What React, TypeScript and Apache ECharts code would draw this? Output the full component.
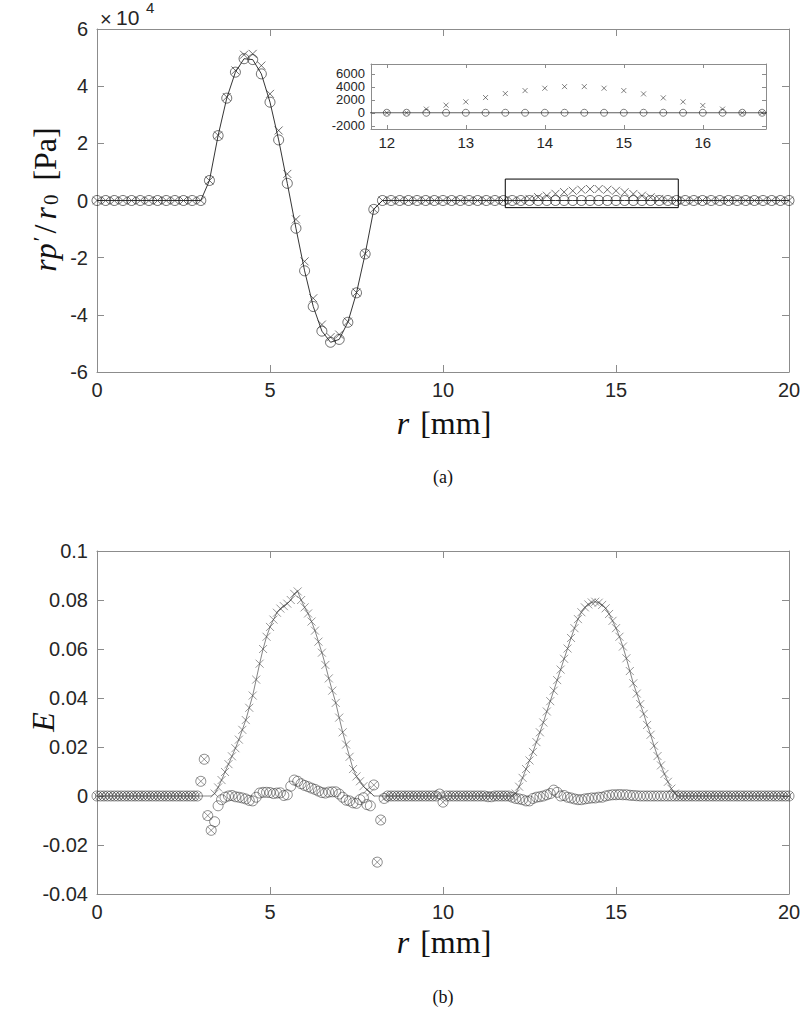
import React, { useEffect, useRef } from "react";
import * as echarts from "echarts";

// ---------- panel (a): r p'/r0 [Pa] on a 0.25 mm grid (r = 0 ... 20) ----------
const R_STEP_A = 0.25;
const pCircle = [
  0, 0, 0, 0, 0, 0, 0, 0, 0, 0,
  0, 0, 0, 7000, 22700, 35800, 44900, 49600, 49300, 44300,
  34400, 21200, 6000, -9700, -24600, -37100, -45700, -49600, -48600, -42600,
  -32300, -18700, -3100, 0, 0, 0, 0, 0, 0, 0,
  0, 0, 0, 0, 0, 0, 0, 0, 0, 0,
  0, 0, 0, 0, 0, 0, 0, 0, 0, 0,
  0, 0, 0, 0, 0, 0, 0, 0, 0, 0,
  0, 0, 0, 0, 0, 0, 0, 0, 0, 0,
  0,
];
const pCross = [
  0, 0, 0, 0, 0, 0, 0, 0, 0, 0,
  0, 0, 0, 7000, 22800, 36200, 45500, 51000, 51300, 47200,
  37300, 24500, 9300, -6600, -21300, -34200, -43400, -47800, -46900, -42400,
  -32200, -18600, -3000, 0, 0, 0, 0, 0, 0, 0,
  0, 0, 0, 0, 0, 0, 0, 0, 0, 0,
  560, 1170, 1680, 2340, 2950, 3410, 3770, 4020, 4020, 3770,
  3410, 2900, 2290, 1680, 1120, 560, 0, 0, 0, 0,
  0, 0, 0, 0, 0, 0, 0, 0, 0, 0,
  0,
];
const xTicksA = [0, 5, 10, 15, 20];
const yTicksA = [-60000, -40000, -20000, 0, 20000, 40000, 60000];
// inset (zoom window)
const insetR = [11.8, 16.8];
const insetP = [-2500, 7500];
const insetXTicks = [12, 13, 14, 15, 16];
const insetYTicks = [-2000, 0, 2000, 4000, 6000];

// ---------- panel (b): E on a 0.1 mm grid (r = 0 ... 20) ----------
const R_STEP_B = 0.1;
const eCross = [
  0, 0, 0, 0, 0, 0, 0, 0, 0, 0,
  0, 0, 0, 0, 0, 0, 0, 0, 0, 0,
  0, 0, 0, 0, 0, 0, 0, 0, 0, 0,
  0.006, 0.015, -0.008, -0.014, 0.001, 0.0035, 0.0065, 0.0098, 0.013, 0.0162,
  0.0195, 0.023, 0.027, 0.031, 0.036, 0.041, 0.0475, 0.054, 0.06, 0.065,
  0.069, 0.072, 0.0748, 0.0765, 0.0775, 0.0785, 0.08, 0.0825, 0.0835, 0.08,
  0.077, 0.0745, 0.0712, 0.0675, 0.063, 0.0585, 0.0535, 0.048, 0.043, 0.038,
  0.032, 0.026, 0.021, 0.016, 0.011, 0.008, 0.006, 0.004, 0.0025, 0.0015,
  0.0045, -0.027, -0.0098, -0.001, 0, 0, 0, 0, 0, 0,
  0, 0, 0, 0, 0, 0, 0, 0, 0, 0.0008,
  -0.0025, 0, 0, 0, 0, 0, 0, 0, 0, 0,
  0, 0, 0, 0, 0, 0, 0, 0, 0, 0,
  0, 0.001, 0.0038, 0.0074, 0.011, 0.0145, 0.018, 0.022, 0.026, 0.03,
  0.0345, 0.0387, 0.043, 0.0473, 0.0516, 0.056, 0.0602, 0.0645, 0.0685, 0.0722,
  0.075, 0.077, 0.0782, 0.079, 0.0793, 0.0789, 0.078, 0.0766, 0.0743, 0.0715,
  0.0685, 0.065, 0.061, 0.0562, 0.051, 0.046, 0.0418, 0.0375, 0.0335, 0.029,
  0.025, 0.0205, 0.0163, 0.0125, 0.009, 0.0058, 0.003, 0.001, 0, 0,
  0, 0, 0, 0, 0, 0, 0, 0, 0, 0,
  0, 0, 0, 0, 0, 0, 0, 0, 0, 0,
  0, 0, 0, 0, 0, 0, 0, 0, 0, 0,
  0,
];
const eCircle = [
  0, 0, 0, 0, 0, 0, 0, 0, 0, 0,
  0, 0, 0, 0, 0, 0, 0, 0, 0, 0,
  0, 0, 0, 0, 0, 0, 0, 0, 0, 0,
  0.006, 0.015, -0.008, -0.014, -0.0105, -0.004, -0.0015, -0.0005, 0, 0.0002,
  -0.0003, -0.0005, -0.0008, -0.0012, -0.0018, -0.002, -0.0005, 0.0012, 0.0015, 0.0015,
  0.0014, 0.001, 0.0012, 0.0013, 0.0002, 0.0005, 0.004, 0.0065, 0.006, 0.005,
  0.0043, 0.0038, 0.0032, 0.0027, 0.002, 0.0014, 0.0012, 0.0016, 0.0017, 0.0017,
  0.0008, -0.0005, -0.0017, -0.002, -0.0028, -0.003, -0.0015, -0.0007, -0.0035, -0.004,
  0.0045, -0.027, -0.0098, -0.001, 0, 0, 0, 0, 0, 0,
  0, 0, 0, 0, 0, 0, 0, 0, 0, 0.0008,
  -0.0025, 0, 0, 0, 0, 0, 0, 0, 0, 0,
  0, 0, 0, -0.0003, -0.0003, 0, 0, 0, 0, 0,
  -0.0005, -0.001, -0.0012, -0.0015, -0.002, -0.002, -0.001, -0.0005, -0.0003, 0,
  0.0005, 0.001, 0.0024, 0.0015, 0, 0.0002, -0.0005, -0.0008, -0.0012, -0.0015,
  -0.0015, -0.0012, -0.001, -0.0008, -0.0008, -0.0005, -0.0005, 0, 0.0003, 0.0005,
  0.0005, 0.0006, 0.0005, 0.0005, 0.0003, 0.0002, 0.0001, 0, 0, 0,
  0, 0, 0, 0, 0, 0, 0, 0, 0, 0,
  0, 0, 0, 0, 0, 0, 0, 0, 0, 0,
  0, 0, 0, 0, 0, 0, 0, 0, 0, 0,
  0, 0, 0, 0, 0, 0, 0, 0, 0, 0,
  0,
];
// r positions where the reference line stays on zero (outliers of the schemes)
const eOutlierR = [3.0, 3.1, 3.2, 3.3, 8.0, 8.1, 8.2, 8.3, 9.9, 10.0];

const AXIS = "#8c8c8c";
const LABEL = "#262626";
const INK = "#1e1e1e";
const SANS = '"Liberation Sans", Arial, Helvetica, sans-serif';
const SERIF = '"Liberation Serif", "Times New Roman", serif';
const CROSS = "path://M0 0L10 10M10 0L0 10";

const rA = pCircle.map((_, i) => +(i * R_STEP_A).toFixed(2));
const rB = eCircle.map((_, i) => +(i * R_STEP_B).toFixed(2));

function fmtNum(v: number) {
  const n = Number(v.toFixed(4));
  return String(Object.is(n, -0) ? 0 : n);
}

function axis(dir: "x" | "y", grid: number, pos: string, min: number, max: number, extra: any = {}) {
  const main = pos === "bottom" || pos === "left";
  const base: any = {
    type: "value",
    gridIndex: grid,
    position: pos,
    min,
    max,
    nameMoveOverlap: false,
    axisLine: { show: true, onZero: false, lineStyle: { color: AXIS, width: 1 } },
    axisTick: { show: true, inside: true, length: 7, lineStyle: { color: AXIS, width: 1 } },
    axisLabel: {
      show: main,
      color: LABEL,
      fontSize: 20,
      fontFamily: SANS,
      margin: dir === "x" ? 8 : 9,
      hideOverlap: false,
      showMinLabel: true,
      showMaxLabel: true,
    },
    splitLine: { show: false },
    silent: true,
  };
  const out = { ...base, ...extra };
  if (extra.axisTick) out.axisTick = { ...base.axisTick, ...extra.axisTick };
  if (extra.axisLabel) out.axisLabel = { ...base.axisLabel, ...extra.axisLabel, show: main && extra.axisLabel.show !== false };
  return out;
}

const FS = 32;
const nameRich = {
  i: { fontFamily: SERIF, fontStyle: "italic", fontSize: FS, color: "#111", padding: [0, 2, 0, 2] },
  n: { fontFamily: SERIF, fontSize: FS, color: "#111" },
  sl: { fontFamily: SERIF, fontSize: FS, color: "#111", padding: [0, 3, 0, 3] },
  sp: { fontFamily: SERIF, fontSize: FS, color: "#111", width: 9 },
  sp2: { fontFamily: SERIF, fontSize: FS, color: "#111", width: 14 },
  p: { fontFamily: SERIF, fontSize: 22, color: "#111", verticalAlign: "top" },
  s: { fontFamily: SERIF, fontSize: 21, color: "#111", verticalAlign: "bottom" },
};

const gridBase = { containLabel: false, outerBoundsMode: "none" };

export default function App() {
  const ref = useRef<HTMLDivElement>(null);
  useEffect(() => {
    if (!ref.current) return;
    const chart = echarts.init(ref.current, undefined, { renderer: "svg" });

    const dataA_c = rA.map((r, i) => [r, pCircle[i]]);
    const dataA_x = rA.map((r, i) => [r, pCross[i]]);
    const inInset = (d: number[]) => d[0] >= insetR[0] && d[0] <= insetR[1];
    const dataB_c = rB.map((r, i) => [r, eCircle[i]]);
    const dataB_x = rB.map((r, i) => [r, eCross[i]]);
    const dataB_line = rB.map((r, i) => [r, eOutlierR.includes(r) ? 0 : eCross[i]]);
    const boxData = [
      [insetR[0], insetP[0]],
      [insetR[1], insetP[0]],
      [insetR[1], insetP[1]],
      [insetR[0], insetP[1]],
      [insetR[0], insetP[0]],
    ];

    const mk = (w: number, c = INK) => ({ color: "transparent", borderColor: c, borderWidth: w });

    const option: any = {
      animation: false,
      backgroundColor: "#ffffff",
      grid: [
        { ...gridBase, left: 97, top: 29, width: 692, height: 343 },
        { ...gridBase, left: 371, top: 64, width: 395, height: 65, show: true, backgroundColor: "#ffffff", borderWidth: 0 },
        { ...gridBase, left: 97, top: 551, width: 692, height: 343 },
      ],
      xAxis: [
        axis("x", 0, "bottom", xTicksA[0], xTicksA[xTicksA.length - 1], {
          interval: 5,
          name: "{i|r}{sp| }{n|[mm]}",
          nameLocation: "middle",
          nameGap: 35,
          nameTextStyle: { rich: nameRich },
        }),
        axis("x", 0, "top", xTicksA[0], xTicksA[xTicksA.length - 1], { interval: 5 }),
        axis("x", 1, "bottom", insetR[0], insetR[1], {
          axisTick: { length: 4, customValues: insetXTicks },
          axisLabel: { customValues: insetXTicks, fontSize: 15, margin: 6 },
        }),
        axis("x", 1, "top", insetR[0], insetR[1], {
          axisTick: { length: 4, customValues: insetXTicks },
        }),
        axis("x", 2, "bottom", 0, 20, {
          interval: 5,
          name: "{i|r}{sp| }{n|[mm]}",
          nameLocation: "middle",
          nameGap: 32,
          nameTextStyle: { rich: nameRich },
        }),
        axis("x", 2, "top", 0, 20, { interval: 5 }),
      ],
      yAxis: [
        axis("y", 0, "left", yTicksA[0], yTicksA[yTicksA.length - 1], {
          interval: 20000,
          axisLabel: { formatter: (v: number) => fmtNum(v / 10000) },
          name: "{i|rp}{p|′}{sl|/}{i|r}{s|0}{sp2| }{n|[Pa]}",
          nameLocation: "middle",
          nameGap: 36,
          nameTextStyle: { rich: nameRich },
        }),
        axis("y", 0, "right", yTicksA[0], yTicksA[yTicksA.length - 1], { interval: 20000 }),
        axis("y", 1, "left", insetP[0], insetP[1], {
          axisTick: { length: 4, customValues: insetYTicks },
          axisLabel: {
            customValues: insetYTicks,
            fontSize: 13,
            lineHeight: 13,
            margin: 6,
            formatter: (v: number) => String(Math.round(v)),
          },
        }),
        axis("y", 1, "right", insetP[0], insetP[1], {
          axisTick: { length: 4, customValues: insetYTicks },
        }),
        axis("y", 2, "left", -0.04, 0.1, {
          interval: 0.02,
          axisLabel: { formatter: (v: number) => fmtNum(v) },
        }),
        axis("y", 2, "right", -0.04, 0.1, { interval: 0.02 }),
      ],
      series: [
        // panel (a)
        { type: "line", xAxisIndex: 0, yAxisIndex: 0, data: dataA_c, showSymbol: false, lineStyle: { color: INK, width: 0.9 }, silent: true, z: 3 },
        { type: "scatter", xAxisIndex: 0, yAxisIndex: 0, data: dataA_c, symbol: "circle", symbolSize: 10, itemStyle: mk(0.8), silent: true, z: 4 },
        { type: "scatter", xAxisIndex: 0, yAxisIndex: 0, data: dataA_x, symbol: CROSS, symbolSize: 8, itemStyle: mk(0.8), silent: true, z: 4 },
        { type: "line", xAxisIndex: 0, yAxisIndex: 0, data: boxData, showSymbol: false, lineStyle: { color: "#000", width: 1 }, silent: true, z: 5 },
        // inset
        { type: "line", xAxisIndex: 2, yAxisIndex: 2, data: dataA_c, showSymbol: false, clip: true, lineStyle: { color: "#333", width: 0.8 }, silent: true, z: 3 },
        { type: "scatter", xAxisIndex: 2, yAxisIndex: 2, data: dataA_c.filter(inInset), symbol: "circle", symbolSize: 7, itemStyle: mk(0.7), silent: true, z: 4 },
        { type: "scatter", xAxisIndex: 2, yAxisIndex: 2, data: dataA_x.filter(inInset), symbol: CROSS, symbolSize: 5, itemStyle: mk(0.7), silent: true, z: 4 },
        // panel (b)
        { type: "line", xAxisIndex: 4, yAxisIndex: 4, data: dataB_line, showSymbol: false, lineStyle: { color: "#333", width: 0.6 }, silent: true, z: 3 },
        { type: "scatter", xAxisIndex: 4, yAxisIndex: 4, data: dataB_c, symbol: "circle", symbolSize: 10, itemStyle: mk(0.7, "#333"), silent: true, z: 4 },
        { type: "scatter", xAxisIndex: 4, yAxisIndex: 4, data: dataB_x, symbol: CROSS, symbolSize: 8, itemStyle: mk(0.7, "#444"), silent: true, z: 4 },
      ],
      graphic: [
        { type: "text", left: 100, top: 9, style: { text: "×", fontSize: 20, fontFamily: SANS, fill: LABEL } },
        { type: "text", left: 116, top: 7, style: { text: "10", fontSize: 21, fontFamily: SANS, fill: LABEL } },
        { type: "text", left: 146, top: 0, style: { text: "4", fontSize: 15, fontFamily: SANS, fill: LABEL } },
        {
          type: "text",
          x: 43,
          y: 722,
          rotation: Math.PI / 2,
          style: { text: "E", fontSize: FS, fontStyle: "italic", fontFamily: SERIF, fill: "#111", align: "center", verticalAlign: "middle" },
        },
        { type: "text", x: 443, y: 477, style: { text: "(a)", fontSize: 18, fontFamily: SERIF, fill: "#111", align: "center", verticalAlign: "middle" } },
        { type: "text", x: 443, y: 997, style: { text: "(b)", fontSize: 18, fontFamily: SERIF, fill: "#111", align: "center", verticalAlign: "middle" } },
      ],
    };
    chart.setOption(option);
    return () => chart.dispose();
  }, []);
  return (
    <div
      ref={ref}
      style={{ position: "fixed", left: 0, top: 0, width: 800, height: 1013, background: "#fff" }}
    />
  );
}
